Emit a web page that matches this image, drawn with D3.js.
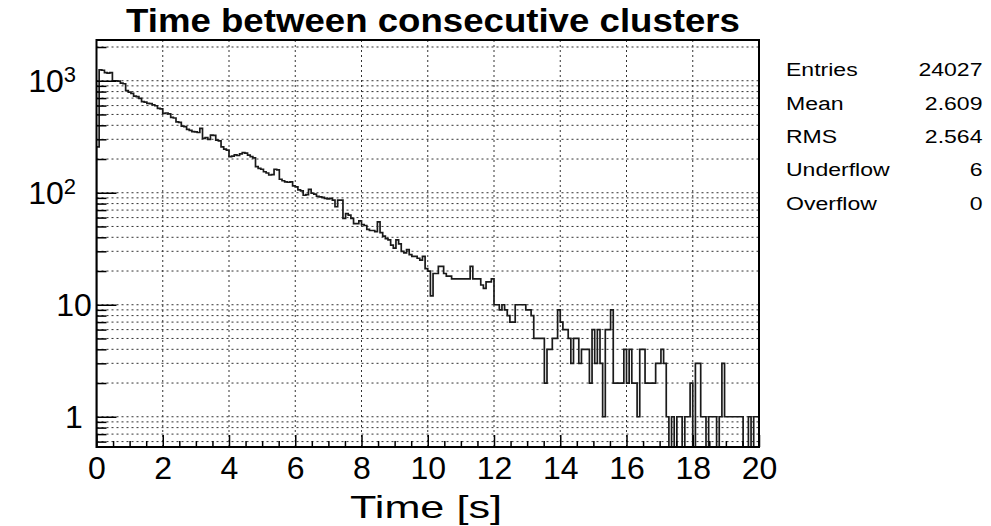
<!DOCTYPE html>
<html>
<head>
<meta charset="utf-8">
<script src="https://cdn.jsdelivr.net/npm/d3@7"></script>
<style>
  body { margin: 0; background: #fff; }
  text { font-family: "Liberation Sans", Arial, Helvetica, sans-serif; fill: #000; }
</style>
</head>
<body>
<svg id="chart" width="991" height="526"></svg>
<script>
// bin contents, 250 bins of 0.08 s from 0 to 20 s
const counts = [
    257, 1250, 1240, 1180, 1170, 1180, 1000, 1000, 990, 950,
    940, 815, 790, 770, 730, 720, 697, 650, 645, 628,
    625, 610, 598, 567, 560, 512, 515, 505, 471, 465,
    430, 425, 394, 390, 368, 360, 351, 350, 345, 376,
    306, 310, 300, 327, 325, 295, 290, 257, 245, 240,
    210, 212, 218, 215, 222, 228, 226, 217, 210, 205,
    171, 165, 162, 154, 150, 144, 145, 162, 160, 132,
    128, 125, 124, 125, 115, 113, 106, 104, 95, 96,
    107, 99, 97, 93, 92, 91, 89, 88, 89, 86,
    75, 86, 86, 59, 65, 63, 59, 53, 53, 56,
    52, 51, 47, 46, 46, 45, 55, 44, 41, 39,
    38, 34, 32, 38, 35, 30, 29, 31, 28, 27,
    27, 26, 25, 27, 21, 20, 12, 19, 19, 22,
    22, 19, 18, 18, 17, 17, 17, 17, 17, 17,
    17, 22, 17, 17, 17, 15, 14, 16, 16, 17,
    10, 10, 9, 10, 9, 8, 7, 7, 10, 10,
    10, 10, 9, 9, 8, 5, 5, 5, 5, 2,
    4, 4, 5, 5, 9, 7, 6, 6, 5, 3,
    5, 5, 3, 4, 4, 4, 2, 6, 3, 6,
    3, 1, 6, 6, 9, 2, 2, 2, 2, 4,
    2, 4, 2, 2, 1, 4, 4, 2, 2, 2,
    2, 3, 3, 4, 3, 1, 0, 1, 0, 1,
    1, 0, 1, 1, 2, 0, 3, 3, 1, 1,
    0, 1, 1, 1, 0, 1, 3, 1, 1, 1,
    1, 1, 1, 1, 0, 0, 1, 0, 1, 1
];
const binWidth = 0.08;
const xDomain = [0, 20];
const yDomain = [0.537, 2310];
const xMajorTicks = [0, 2, 4, 6, 8, 10, 12, 14, 16, 18, 20];
const yLabelTicks = [1, 10, 100, 1000];
const statLabels = ["Entries", "Mean", "RMS", "Underflow", "Overflow"];
const statValues = ["24027", "2.609", "2.564", "6", "0"];
const chartTitle = "Time between consecutive clusters";
const xTitle = "Time [s]";

var svg = d3.select("#chart");
var frame = {left: 96.5, right: 759, top: 40, bottom: 447};

var x = d3.scaleLinear().domain(xDomain).range([frame.left, frame.right]);
var y = d3.scaleLog().domain(yDomain).range([frame.bottom, frame.top]).clamp(true);

// all log ticks (1..9 x 10^n) inside the frame
var yTicks = [];
for (var p = -1; p <= 3; p++) {
    for (var m = 1; m <= 9; m++) {
        var v = m * Math.pow(10, p);
        if (v > yDomain[0] && v < yDomain[1]) yTicks.push(+v.toPrecision(3));
    }
}
var xMinorTicks = d3.range(0, 20.001, 0.5).filter(d => d % 2 !== 0);

// grid
var grid = svg.append("g")
    .attr("stroke", "#000")
    .attr("stroke-width", 1)
    .attr("stroke-dasharray", "2,3")
    .attr("opacity", 0.8);
grid.selectAll(".gx")
    .data(xMajorTicks.slice(1, -1))
    .enter().append("line")
    .attr("x1", d => x(d)).attr("x2", d => x(d))
    .attr("y1", frame.top).attr("y2", frame.bottom);
grid.selectAll(".gy")
    .data(yTicks)
    .enter().append("line")
    .attr("x1", frame.left).attr("x2", frame.right)
    .attr("y1", d => y(d)).attr("y2", d => y(d));

// histogram outline
svg.append("clipPath").attr("id", "plotclip")
    .append("rect")
    .attr("x", frame.left).attr("y", frame.top)
    .attr("width", frame.right - frame.left).attr("height", frame.bottom - frame.top);

var pts = [[0, 0]].concat(counts.map((c, i) => [i * binWidth, c]));
pts.push([counts.length * binWidth, counts[counts.length - 1]]);
pts.push([counts.length * binWidth, 0]);

var line = d3.line()
    .x(d => x(d[0]))
    .y(d => y(Math.max(d[1], yDomain[0])))
    .curve(d3.curveStepAfter);

svg.append("path")
    .attr("clip-path", "url(#plotclip)")
    .attr("d", line(pts))
    .attr("fill", "none")
    .attr("stroke", "#1a1a1a")
    .attr("stroke-width", 1.7);

// x axis: major ticks with labels, minor ticks without
var xAxis = svg.append("g")
    .attr("transform", "translate(0," + frame.bottom + ")")
    .call(d3.axisBottom(x).tickValues(xMajorTicks).tickSize(-12).tickSizeOuter(0)
        .tickPadding(9).tickFormat(d3.format("d")));
xAxis.select(".domain").remove();
xAxis.selectAll("text").style("font-size", "32px");
xAxis.selectAll("line").attr("stroke-width", 1.5);

var xMinor = svg.append("g")
    .attr("transform", "translate(0," + frame.bottom + ")")
    .call(d3.axisBottom(x).tickValues(xMinorTicks).tickSize(-6).tickSizeOuter(0).tickFormat(""));
xMinor.select(".domain").remove();
xMinor.selectAll("line").attr("stroke-width", 1.5);

// y axis (log)
var yAxis = svg.append("g")
    .attr("transform", "translate(" + frame.left + ",0)")
    .call(d3.axisLeft(y).tickValues(yTicks).tickSize(-10).tickSizeOuter(0).tickFormat(""));
yAxis.select(".domain").remove();
yAxis.selectAll("line")
    .attr("stroke-width", 1.5)
    .attr("x2", d => yLabelTicks.indexOf(d) >= 0 ? 20 : 10);

var yLab = svg.append("g").style("font-size", "32px");
yLabelTicks.forEach(function(d) {
    var t = yLab.append("text").attr("y", y(d)).attr("dy", "0.34em");
    if (d < 100) {
        t.attr("x", 74).attr("text-anchor", "middle").text(d);
    } else {
        t.attr("x", 76).attr("text-anchor", "end");
        t.append("tspan").text("10");
        t.append("tspan").attr("dy", "-0.45em").style("font-size", "22px")
            .text(Math.round(Math.log10(d)));
    }
});

// frame
svg.append("rect")
    .attr("x", frame.left).attr("y", frame.top)
    .attr("width", frame.right - frame.left).attr("height", frame.bottom - frame.top)
    .attr("fill", "none").attr("stroke", "#000").attr("stroke-width", 2);

// titles
svg.append("text")
    .attr("x", 126).attr("y", 32)
    .attr("textLength", 614).attr("lengthAdjust", "spacingAndGlyphs")
    .style("font-size", "33px").style("font-weight", "bold")
    .text(chartTitle);

svg.append("text")
    .attr("x", 350).attr("y", 518)
    .attr("textLength", 152).attr("lengthAdjust", "spacingAndGlyphs")
    .style("font-size", "32px")
    .text(xTitle);

// statistics box
var stats = svg.append("g")
    .attr("transform", "translate(786,0) scale(1.28,1)")
    .style("font-size", "18px");
statLabels.forEach(function(lab, i) {
    var by = 76.5 + i * 33.3;
    stats.append("text").attr("x", 0).attr("y", by).text(lab);
    stats.append("text").attr("x", 153.5).attr("y", by).attr("text-anchor", "end").text(statValues[i]);
});
</script>
</body>
</html>
